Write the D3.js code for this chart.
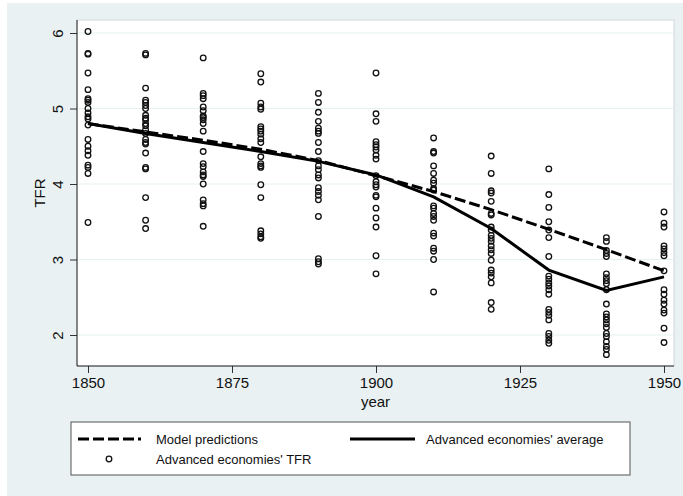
<!DOCTYPE html>
<html>
<head>
<meta charset="utf-8">
<script src="https://cdn.jsdelivr.net/npm/d3@7"></script>
<style>
  body { margin: 0; background: #fff; }
  text { font-family: "Liberation Sans", Arial, sans-serif; fill: #111; }
</style>
</head>
<body>
<script>
(function(){

    // decades on the x axis
    var years = [1850, 1860, 1870, 1880, 1890, 1900, 1910, 1920, 1930, 1940, 1950];
    var modelPred = [4.80, 4.69, 4.58, 4.46, 4.31, 4.11, 3.90, 3.66, 3.40, 3.13, 2.85];
    var avgTFR = [4.80, 4.67, 4.55, 4.43, 4.30, 4.12, 3.83, 3.41, 2.86, 2.59, 2.77];

    // country TFRs per decade
    var tfr1850 = [6.02, 5.73, 5.72, 5.47, 5.25, 5.13, 5.11, 5.08, 5.00, 4.94, 4.89, 4.86, 4.78, 4.59, 4.50, 4.44, 4.38, 4.25, 4.22, 4.14, 3.49];
    var tfr1860 = [5.73, 5.71, 5.27, 5.11, 5.08, 5.04, 5.00, 4.91, 4.87, 4.85, 4.80, 4.77, 4.72, 4.67, 4.59, 4.55, 4.53, 4.41, 4.22, 4.20, 3.82, 3.52, 3.41];
    var tfr1870 = [5.67, 5.20, 5.17, 5.13, 5.02, 4.97, 4.90, 4.88, 4.85, 4.80, 4.70, 4.43, 4.27, 4.23, 4.16, 4.12, 4.10, 4.00, 3.79, 3.74, 3.71, 3.44];
    var tfr1880 = [5.46, 5.35, 5.07, 5.02, 4.99, 4.76, 4.73, 4.70, 4.66, 4.60, 4.55, 4.36, 4.27, 4.24, 4.22, 3.99, 3.82, 3.38, 3.34, 3.30, 3.28];
    var tfr1890 = [5.20, 5.08, 4.95, 4.83, 4.74, 4.70, 4.67, 4.55, 4.43, 4.31, 4.24, 4.19, 4.12, 4.08, 3.95, 3.90, 3.85, 3.79, 3.57, 3.01, 2.97, 2.94];
    var tfr1900 = [5.47, 4.93, 4.83, 4.56, 4.52, 4.49, 4.45, 4.38, 4.33, 4.11, 4.03, 3.99, 3.96, 3.85, 3.83, 3.68, 3.55, 3.43, 3.05, 2.81];
    var tfr1910 = [4.61, 4.43, 4.41, 4.24, 4.14, 4.05, 4.01, 3.94, 3.92, 3.71, 3.68, 3.61, 3.57, 3.52, 3.35, 3.31, 3.15, 3.11, 3.00, 2.57];
    var tfr1920 = [4.37, 4.14, 3.91, 3.88, 3.77, 3.61, 3.59, 3.43, 3.39, 3.32, 3.28, 3.24, 3.18, 3.13, 3.08, 2.99, 2.86, 2.82, 2.77, 2.69, 2.43, 2.34];
    var tfr1930 = [4.20, 3.86, 3.69, 3.50, 3.39, 3.29, 3.04, 2.78, 2.74, 2.69, 2.65, 2.60, 2.54, 2.34, 2.30, 2.26, 2.20, 2.02, 1.98, 1.93, 1.89];
    var tfr1940 = [3.29, 3.24, 3.12, 3.08, 3.04, 2.81, 2.76, 2.72, 2.68, 2.60, 2.41, 2.28, 2.24, 2.20, 2.15, 2.10, 2.02, 1.98, 1.91, 1.85, 1.81, 1.74];
    var tfr1950 = [3.63, 3.48, 3.43, 3.18, 3.14, 3.09, 3.05, 2.85, 2.60, 2.54, 2.46, 2.41, 2.33, 2.29, 2.09, 1.90];

    var xTicks = [1850, 1875, 1900, 1925, 1950];
    var yTicks = [2, 3, 4, 5, 6];

    var tfrByYear = [tfr1850, tfr1860, tfr1870, tfr1880, tfr1890, tfr1900,
                     tfr1910, tfr1920, tfr1930, tfr1940, tfr1950];

    var width = 683, height = 496;
    // plot region (Stata style box)
    var plot = {left: 77, top: 20, right: 674, bottom: 366};

    var svg = d3.select("body")
        .append("svg")
        .attr("width", width)
        .attr("height", height);

    // outer graph region
    svg.append("rect")
        .attr("x", 7).attr("y", 3)
        .attr("width", width - 7).attr("height", height - 3)
        .style("fill", "#e9f1f3");

    svg.append("rect")
        .attr("x", plot.left).attr("y", plot.top)
        .attr("width", plot.right - plot.left)
        .attr("height", plot.bottom - plot.top)
        .style("fill", "#fff")
        .style("stroke", "#c9d0d3")
        .style("stroke-width", 0.8);

    var x = d3.scaleLinear().domain([1850, 1950]).range([88, 664]);
    var y = d3.scaleLinear().domain([2, 6]).range([335, 33]);

    // gridlines
    svg.append("g")
        .selectAll("line")
        .data(yTicks)
        .enter()
        .append("line")
        .attr("x1", plot.left).attr("x2", plot.right)
        .attr("y1", d => y(d)).attr("y2", d => y(d))
        .style("stroke", "#e6eff1")
        .style("stroke-width", 1.2);

    // axes
    var yAxis = svg.append("g")
        .attr("transform", `translate(${plot.left},0)`)
        .call(d3.axisLeft(y).tickValues(yTicks).tickSize(7).tickPadding(8).tickFormat(d3.format("d")));
    yAxis.select(".domain").remove();
    yAxis.selectAll("line").style("stroke", "#333");
    yAxis.selectAll("text")
        .attr("x", null).attr("dy", null)
        .attr("transform", "translate(-14,0) rotate(-90)")
        .style("text-anchor", "middle")
        .style("font-size", "15px")
        .style("font-family", "Liberation Sans, Arial, sans-serif");

    var xAxis = svg.append("g")
        .attr("transform", `translate(0,${plot.bottom})`)
        .call(d3.axisBottom(x).tickValues(xTicks).tickSize(7).tickPadding(4).tickFormat(d3.format("d")));
    xAxis.select(".domain").remove();
    xAxis.selectAll("line").style("stroke", "#333");
    xAxis.selectAll("text")
        .style("font-size", "15px")
        .style("font-family", "Liberation Sans, Arial, sans-serif");

    svg.append("line")
        .attr("x1", plot.left).attr("x2", plot.left)
        .attr("y1", plot.top).attr("y2", plot.bottom)
        .style("stroke", "#222").style("stroke-width", 1);
    svg.append("line")
        .attr("x1", plot.left).attr("x2", plot.right)
        .attr("y1", plot.bottom).attr("y2", plot.bottom)
        .style("stroke", "#222").style("stroke-width", 1);

    // axis titles
    svg.append("text")
        .attr("transform", `translate(45,${(plot.top + plot.bottom) / 2}) rotate(-90)`)
        .style("text-anchor", "middle")
        .style("font-size", "15px")
        .text("TFR");
    svg.append("text")
        .attr("x", (plot.left + plot.right) / 2)
        .attr("y", 407)
        .style("text-anchor", "middle")
        .style("font-size", "15px")
        .text("year");

    // scatter
    var points = [];
    tfrByYear.forEach((vals, i) => {
        vals.forEach(v => points.push({year: years[i], tfr: v}));
    });

    svg.append("g")
        .selectAll("circle")
        .data(points)
        .enter()
        .append("circle")
        .attr("cx", d => x(d.year))
        .attr("cy", d => y(d.tfr))
        .attr("r", 2.8)
        .style("fill", "none")
        .style("stroke", "#111")
        .style("stroke-width", 1.3);

    var line = d3.line()
        .x((d, i) => x(years[i]))
        .y(d => y(d));

    svg.append("path")
        .datum(modelPred)
        .attr("d", line)
        .style("fill", "none")
        .style("stroke", "#000")
        .style("stroke-width", 3)
        .style("stroke-dasharray", "11,4");

    svg.append("path")
        .datum(avgTFR)
        .attr("d", line)
        .style("fill", "none")
        .style("stroke", "#000")
        .style("stroke-width", 3);

    // legend
    var legend = svg.append("g");
    legend.append("rect")
        .attr("x", 71).attr("y", 422)
        .attr("width", 559).attr("height", 53)
        .style("fill", "#fff")
        .style("stroke", "#555")
        .style("stroke-width", 1);

    legend.append("line")
        .attr("x1", 78).attr("x2", 141).attr("y1", 439).attr("y2", 439)
        .style("stroke", "#000").style("stroke-width", 3)
        .style("stroke-dasharray", "11,4");
    legend.append("text")
        .attr("x", 156).attr("y", 443.5)
        .style("font-size", "13px")
        .text("Model predictions");

    legend.append("line")
        .attr("x1", 350).attr("x2", 415).attr("y1", 439).attr("y2", 439)
        .style("stroke", "#000").style("stroke-width", 3);
    legend.append("text")
        .attr("x", 426).attr("y", 443.5)
        .style("font-size", "13px")
        .text("Advanced economies' average");

    legend.append("circle")
        .attr("cx", 109).attr("cy", 459).attr("r", 2.8)
        .style("fill", "none").style("stroke", "#111").style("stroke-width", 1.3);
    legend.append("text")
        .attr("x", 156).attr("y", 464)
        .style("font-size", "13px")
        .text("Advanced economies' TFR");

})();
</script>
</body>
</html>
